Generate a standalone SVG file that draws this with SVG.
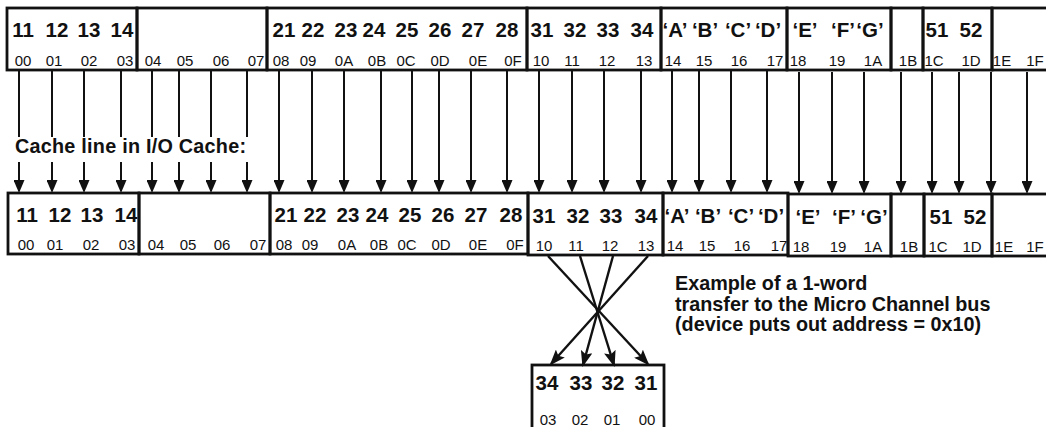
<svg xmlns="http://www.w3.org/2000/svg" width="1046" height="427" viewBox="0 0 1046 427">
<style>
.box{fill:none;stroke:#111;stroke-width:2.8}
.big{font-family:"Liberation Sans",Arial,sans-serif;font-weight:bold;font-size:20.5px;text-anchor:middle;fill:#111}
.sm{font-family:"Liberation Sans",Arial,sans-serif;font-size:15px;text-anchor:middle;fill:#111}
.lbl{font-family:"Liberation Sans",Arial,sans-serif;font-weight:bold;font-size:19.8px;fill:#111}
.ln{stroke:#111;stroke-width:2;fill:none}
.arr{stroke:#111;stroke-width:2;fill:none;marker-end:url(#ah)}
.xarr{stroke:#111;stroke-width:2.4;fill:none;marker-end:url(#ah2)}
</style>
<defs>
<marker id="ah" viewBox="0 0 13 11" refX="11" refY="5.5" markerWidth="13" markerHeight="11" markerUnits="userSpaceOnUse" orient="auto"><path d="M0,0 L13,5.5 L0,11 z" fill="#111"/></marker>
<marker id="ah2" viewBox="0 0 16 12" refX="14" refY="6" markerWidth="16" markerHeight="12" markerUnits="userSpaceOnUse" orient="auto"><path d="M0,0 L16,6 L0,12 L3,6 z" fill="#111"/></marker>
</defs>
<rect width="1046" height="427" fill="#fff"/>

<!-- Top row -->
<g id="top-00-03"><rect class="box" x="7" y="8" width="130" height="62"/>
<text class="big" y="37"><tspan x="23">11</tspan><tspan x="57">12</tspan><tspan x="89">13</tspan><tspan x="122">14</tspan></text>
<text class="sm" y="66"><tspan x="23">00</tspan><tspan x="54">01</tspan><tspan x="89">02</tspan><tspan x="125">03</tspan></text></g>
<g id="top-04-07"><rect class="box" x="137" y="8" width="130" height="62"/>
<text class="sm" y="66"><tspan x="153">04</tspan><tspan x="185">05</tspan><tspan x="221">06</tspan><tspan x="256">07</tspan></text></g>
<g id="top-08-0F"><rect class="box" x="267" y="8" width="260" height="62"/>
<text class="big" y="37"><tspan x="284">21</tspan><tspan x="313">22</tspan><tspan x="346">23</tspan><tspan x="374">24</tspan><tspan x="407">25</tspan><tspan x="440">26</tspan><tspan x="473">27</tspan><tspan x="507">28</tspan></text>
<text class="sm" y="66"><tspan x="281">08</tspan><tspan x="308">09</tspan><tspan x="344">0A</tspan><tspan x="377">0B</tspan><tspan x="406">0C</tspan><tspan x="440">0D</tspan><tspan x="478">0E</tspan><tspan x="513">0F</tspan></text></g>
<g id="top-10-13"><rect class="box" x="527" y="8" width="134" height="62"/>
<text class="big" y="37"><tspan x="542">31</tspan><tspan x="575">32</tspan><tspan x="608">33</tspan><tspan x="642">34</tspan></text>
<text class="sm" y="66"><tspan x="541">10</tspan><tspan x="572">11</tspan><tspan x="607">12</tspan><tspan x="644">13</tspan></text></g>
<g id="top-14-17"><rect class="box" x="661" y="8" width="126" height="62"/>
<text class="big" y="37"><tspan x="675">‘A’</tspan><tspan x="705">‘B’</tspan><tspan x="738">‘C’</tspan><tspan x="768">‘D’</tspan></text>
<text class="sm" y="66"><tspan x="673">14</tspan><tspan x="704">15</tspan><tspan x="739">16</tspan><tspan x="775">17</tspan></text></g>
<g id="top-18-1A"><rect class="box" x="787" y="8" width="104" height="62"/>
<text class="big" y="37"><tspan x="805">‘E’</tspan><tspan x="843">‘F’</tspan><tspan x="870">‘G’</tspan></text>
<text class="sm" y="66"><tspan x="798">18</tspan><tspan x="837">19</tspan><tspan x="873">1A</tspan></text></g>
<g id="top-1B"><rect class="box" x="891" y="8" width="32" height="62"/>
<text class="sm" y="66" x="908">1B</text></g>
<g id="top-1C-1D"><rect class="box" x="923" y="8" width="69" height="62"/>
<text class="big" y="37"><tspan x="937">51</tspan><tspan x="971">52</tspan></text>
<text class="sm" y="66"><tspan x="934">1C</tspan><tspan x="971">1D</tspan></text></g>
<g id="top-1E-1F"><rect class="box" x="992" y="8" width="60" height="62"/>
<text class="sm" y="66"><tspan x="1002">1E</tspan><tspan x="1035">1F</tspan></text></g>

<!-- Label -->
<g id="label-cache"><text class="lbl" x="15" y="153" font-size="19.5" textLength="231">Cache line in I/O Cache:</text></g>

<!-- Bottom row (cache line) -->
<g id="bot-00-03"><rect class="box" x="8" y="193" width="131" height="61"/>
<text class="big" y="222"><tspan x="27">11</tspan><tspan x="60">12</tspan><tspan x="92">13</tspan><tspan x="126">14</tspan></text>
<text class="sm" y="250"><tspan x="26">00</tspan><tspan x="55">01</tspan><tspan x="91">02</tspan><tspan x="127">03</tspan></text></g>
<g id="bot-04-07"><rect class="box" x="139" y="193" width="131" height="61"/>
<text class="sm" y="250"><tspan x="156">04</tspan><tspan x="188">05</tspan><tspan x="222">06</tspan><tspan x="258">07</tspan></text></g>
<g id="bot-08-0F"><rect class="box" x="270" y="193" width="258" height="61"/>
<text class="big" y="222"><tspan x="286">21</tspan><tspan x="315">22</tspan><tspan x="348">23</tspan><tspan x="377">24</tspan><tspan x="410">25</tspan><tspan x="443">26</tspan><tspan x="476">27</tspan><tspan x="511">28</tspan></text>
<text class="sm" y="250"><tspan x="284">08</tspan><tspan x="310">09</tspan><tspan x="347">0A</tspan><tspan x="379">0B</tspan><tspan x="407">0C</tspan><tspan x="441">0D</tspan><tspan x="478">0E</tspan><tspan x="515">0F</tspan></text></g>
<g id="bot-10-13"><rect class="box" x="528" y="193" width="135" height="62"/>
<text class="big" y="223"><tspan x="544">31</tspan><tspan x="578">32</tspan><tspan x="611">33</tspan><tspan x="646">34</tspan></text>
<text class="sm" y="251"><tspan x="544">10</tspan><tspan x="576">11</tspan><tspan x="610">12</tspan><tspan x="646">13</tspan></text></g>
<g id="bot-14-17"><rect class="box" x="663" y="193" width="125" height="62"/>
<text class="big" y="223"><tspan x="677">‘A’</tspan><tspan x="708">‘B’</tspan><tspan x="741">‘C’</tspan><tspan x="771">‘D’</tspan></text>
<text class="sm" y="251"><tspan x="675">14</tspan><tspan x="707">15</tspan><tspan x="742">16</tspan><tspan x="779">17</tspan></text></g>
<g id="bot-18-1A"><rect class="box" x="788" y="194" width="103" height="62"/>
<text class="big" y="224"><tspan x="808">‘E’</tspan><tspan x="844">‘F’</tspan><tspan x="874">‘G’</tspan></text>
<text class="sm" y="252"><tspan x="801">18</tspan><tspan x="838">19</tspan><tspan x="873">1A</tspan></text></g>
<g id="bot-1B"><rect class="box" x="891" y="194" width="33" height="62"/>
<text class="sm" y="252" x="909">1B</text></g>
<g id="bot-1C-1D"><rect class="box" x="924" y="194" width="68" height="62"/>
<text class="big" y="224"><tspan x="941">51</tspan><tspan x="975">52</tspan></text>
<text class="sm" y="252"><tspan x="938">1C</tspan><tspan x="972">1D</tspan></text></g>
<g id="bot-1E-1F"><rect class="box" x="992" y="194" width="60" height="62"/>
<text class="sm" y="252"><tspan x="1004">1E</tspan><tspan x="1035">1F</tspan></text></g>

<!-- Output word -->
<g id="bus-word"><rect class="box" x="532" y="365" width="132" height="70"/>
<text class="big" y="390"><tspan x="547">34</tspan><tspan x="581">33</tspan><tspan x="613">32</tspan><tspan x="646">31</tspan></text>
<text class="sm" y="425"><tspan x="548">03</tspan><tspan x="580">02</tspan><tspan x="612">01</tspan><tspan x="647">00</tspan></text></g>

<!-- Example note -->
<g id="note"><text class="lbl"><tspan x="675" y="290">Example of a 1-word</tspan><tspan x="675" y="311">transfer to the Micro Channel bus</tspan><tspan x="675" y="331">(device puts out address = 0x10)</tspan></text></g>

<!-- Connectors -->
<g id="connectors">
<g id="split-arrows">
<line class="ln" x1="19" y1="71" x2="19" y2="137"/><line class="arr" x1="19" y1="162" x2="19" y2="191"/>
<line class="ln" x1="52" y1="71" x2="52" y2="137"/><line class="arr" x1="52" y1="162" x2="52" y2="191"/>
<line class="ln" x1="84" y1="71" x2="84" y2="137"/><line class="arr" x1="84" y1="162" x2="84" y2="191"/>
<line class="ln" x1="121" y1="71" x2="121" y2="137"/><line class="arr" x1="121" y1="162" x2="121" y2="191"/>
<line class="ln" x1="152" y1="71" x2="152" y2="137"/><line class="arr" x1="152" y1="162" x2="152" y2="191"/>
<line class="ln" x1="179" y1="71" x2="179" y2="137"/><line class="arr" x1="179" y1="162" x2="179" y2="191"/>
<line class="ln" x1="211" y1="71" x2="211" y2="137"/><line class="arr" x1="211" y1="162" x2="211" y2="191"/>
<line class="ln" x1="247" y1="71" x2="247" y2="137"/><line class="arr" x1="247" y1="162" x2="247" y2="191"/>
</g>
<g id="full-arrows">
<line class="arr" x1="279" y1="71" x2="279" y2="191"/><line class="arr" x1="312" y1="71" x2="312" y2="191"/>
<line class="arr" x1="344" y1="71" x2="344" y2="191"/><line class="arr" x1="381" y1="71" x2="381" y2="191"/>
<line class="arr" x1="412" y1="71" x2="412" y2="191"/><line class="arr" x1="439" y1="71" x2="439" y2="191"/>
<line class="arr" x1="471" y1="71" x2="471" y2="191"/><line class="arr" x1="507" y1="71" x2="507" y2="191"/>
<line class="arr" x1="539" y1="71" x2="539" y2="191"/><line class="arr" x1="572" y1="71" x2="572" y2="191"/>
<line class="arr" x1="604" y1="71" x2="604" y2="191"/><line class="arr" x1="641" y1="71" x2="641" y2="191"/>
<line class="arr" x1="672" y1="71" x2="672" y2="191"/><line class="arr" x1="699" y1="71" x2="699" y2="191"/>
<line class="arr" x1="731" y1="71" x2="731" y2="191"/><line class="arr" x1="767" y1="71" x2="767" y2="191"/>
<line class="arr" x1="799" y1="72" x2="799" y2="192"/><line class="arr" x1="832" y1="72" x2="832" y2="192"/>
<line class="arr" x1="864" y1="72" x2="864" y2="192"/><line class="arr" x1="901" y1="72" x2="901" y2="192"/>
<line class="arr" x1="932" y1="72" x2="932" y2="192"/><line class="arr" x1="959" y1="72" x2="959" y2="192"/>
<line class="arr" x1="991" y1="72" x2="991" y2="192"/><line class="arr" x1="1027" y1="72" x2="1027" y2="192"/>
</g>
<g id="cross-arrows">
<line class="xarr" x1="548" y1="256" x2="648" y2="364"/>
<line class="xarr" x1="580" y1="256" x2="614" y2="365"/>
<line class="xarr" x1="613" y1="256" x2="583" y2="365"/>
<line class="xarr" x1="648" y1="256" x2="551" y2="364"/>
</g>
</g>
</svg>
